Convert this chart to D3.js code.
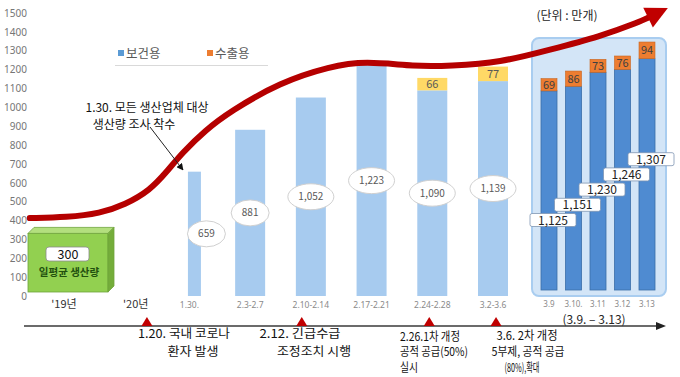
<!DOCTYPE html>
<html>
<head>
<meta charset="utf-8">
<script src="https://cdn.jsdelivr.net/npm/d3@7"></script>
<style>
  body { margin: 0; background: #fff; }
  svg { display: block; font-family: "Noto Sans CJK KR", "Noto Sans", sans-serif; }
</style>
</head>
<body>
<svg id="chart" width="680" height="377"></svg>
<script>
// ---- data ----
var categories = ["'19년", "'20년", "1.30.", "2.3-2.7", "2.10-2.14", "2.17-2.21", "2.24-2.28", "3.2-3.6"];
var yTicks = [0, 100, 200, 300, 400, 500, 600, 700, 800, 900, 1000, 1100, 1200, 1300, 1400, 1500];
var avgDaily = 300;

var weekCats = ["1.30.", "2.3-2.7", "2.10-2.14", "2.17-2.21", "2.24-2.28", "3.2-3.6"];
var weekHealth = [659, 881, 1052, 1223, 1090, 1139];
var weekExport = [0, 0, 0, 0, 66, 77];

var dayCats = ["3.9", "3.10.", "3.11", "3.12", "3.13"];
var dayHealth = [1125, 1151, 1230, 1246, 1307];
var dayExport = [69, 86, 73, 76, 94];

// trend arrow, in category-index / value units
var trendX = [-0.63, -0.63, -0.02, 0.53, 0.94, 1.35, 1.63, 1.88, 2.26, 2.67, 3.49, 4.32, 4.89, 5.72, 6.29, 7.12, 7.94, 8.76, 9.42, 9.88];
var trendV = [413, 413, 417, 438, 484, 560, 660, 758, 878, 978, 1132, 1217, 1245, 1217, 1220, 1237, 1306, 1375, 1454, 1526];

// timeline events (position in category-index units)
var eventPos = [1.3, 3.85, 5.95, 7.05];
var eventLines = [
  ["1.20. 국내 코로나", "환자 발생"],
  ["2.12. 긴급수급", "조정조치 시행"],
  ["2.26.1차 개정", "공적 공급(50%)", "실시"],
  ["3.6. 2차 개정", "5부제, 공적 공급", "(80%),확대"]
];

// ---- setup ----
var svg = d3.select("#chart");

var y = d3.scaleLinear().domain([0, 1500]).range([296, 13]);
var x = d3.scalePoint().domain(categories).range([68, 493]);
var xIdx = d3.scaleLinear().domain([0, categories.length - 1]).range([68, 493]);
var xDay = d3.scalePoint().domain(dayCats).range([549, 647]);
// the highlighted daily group sits on its own, slightly compressed scale
var yDay = d3.scaleLinear().domain([0, 1500]).range([290, 24.5]);

// y axis
var yAxis = svg.append("g")
   .attr("transform", "translate(27,0)")
   .call(d3.axisLeft(y).tickValues(yTicks).tickSize(0).tickPadding(0).tickFormat(d3.format("d")));
yAxis.select(".domain").remove();
yAxis.selectAll("text")
   .attr("font-size", 10)
   .attr("fill", "#767676")
   .attr("font-family", "'Noto Sans', sans-serif");

// highlight box behind the daily bars
svg.append("rect")
   .attr("x", xDay(dayCats[0]) - 17)
   .attr("y", 38)
   .attr("width", xDay(dayCats[dayCats.length - 1]) + 19 - (xDay(dayCats[0]) - 17))
   .attr("height", y(0) - 38)
   .attr("rx", 7)
   .attr("fill", "#d3e5f7")
   .attr("stroke", "#a9cdf0")
   .attr("stroke-width", 2);

// legend
svg.append("line")
   .attr("x1", 115).attr("x2", 268).attr("y1", 65.5).attr("y2", 65.5)
   .attr("stroke", "#d9d9d9");
var legend = svg.selectAll(".legend")
   .data([{ name: "보건용", color: "#5b9bd5" }, { name: "수출용", color: "#ed7d31" }])
   .enter().append("g")
   .attr("class", "legend")
   .attr("transform", function(d, i) { return "translate(" + (118 + i * 89) + ",53)"; });
legend.append("rect")
   .attr("x", 0).attr("y", -3).attr("width", 6).attr("height", 6)
   .attr("fill", function(d) { return d.color; });
legend.append("text")
   .attr("x", 8).attr("y", 4.5)
   .attr("font-size", 12.5)
   .attr("fill", "#595959")
   .text(function(d) { return d.name; });

// unit
svg.append("text")
   .attr("x", 567).attr("y", 19.5)
   .attr("text-anchor", "middle")
   .attr("font-size", 12)
   .attr("fill", "#262626")
   .text("(단위 : 만개)");

// '19 average box (3D green block)
var gx = x("'19년"), gw = 80, depth = 6;
var gx0 = gx - gw / 2, gx1 = gx + gw / 2;
var gTop = y(avgDaily) - 6, gBot = y(0) - 4;
svg.append("rect")
   .attr("x", gx0).attr("y", gTop).attr("width", gw).attr("height", gBot - gTop)
   .attr("fill", "#92d050").attr("stroke", "#6ea33a").attr("stroke-width", 0.8);
svg.append("path")
   .attr("d", "M" + gx0 + "," + gTop + "L" + (gx0 + depth) + "," + (gTop - depth) +
              "L" + (gx1 + depth) + "," + (gTop - depth) + "L" + gx1 + "," + gTop + "Z")
   .attr("fill", "#b3df7e").attr("stroke", "#6ea33a").attr("stroke-width", 0.8);
svg.append("path")
   .attr("d", "M" + gx1 + "," + gTop + "L" + (gx1 + depth) + "," + (gTop - depth) +
              "L" + (gx1 + depth) + "," + (gBot - depth) + "L" + gx1 + "," + gBot + "Z")
   .attr("fill", "#74ad3a").attr("stroke", "#6ea33a").attr("stroke-width", 0.8);
svg.append("rect")
   .attr("x", gx - 22).attr("y", 247).attr("width", 43).attr("height", 14).attr("rx", 3)
   .attr("fill", "#fff").attr("stroke", "#8c8c8c").attr("stroke-width", 0.8);
svg.append("text")
   .attr("x", gx).attr("y", 258.5).attr("text-anchor", "middle")
   .attr("font-size", 12.5).attr("fill", "#111")
   .text(avgDaily);
svg.append("text")
   .attr("x", gx + 1).attr("y", 276).attr("text-anchor", "middle")
   .attr("font-size", 10.5).attr("font-weight", "bold").attr("fill", "#23500f")
   .text("일평균 생산량");

// weekly bars (light)
var weeks = weekCats.map(function(c, i) {
   return { cat: c, health: weekHealth[i], exp: weekExport[i], i: i };
});
function weekW(d) { return d.i == 0 ? 13 : 30; }
function weekCx(d) { return x(d.cat) + (d.i == 0 ? 5 : 0); }

svg.selectAll(".wbar")
   .data(weeks)
   .enter().append("rect")
   .attr("class", "wbar")
   .attr("x", function(d) { return weekCx(d) - weekW(d) / 2; })
   .attr("y", function(d) { return y(d.health); })
   .attr("width", weekW)
   .attr("height", function(d) { return y(0) - y(d.health); })
   .attr("fill", "#a7cbef");

var wexp = weeks.filter(function(d) { return d.exp > 0; });
svg.selectAll(".wexp")
   .data(wexp)
   .enter().append("rect")
   .attr("class", "wexp")
   .attr("x", function(d) { return weekCx(d) - weekW(d) / 2; })
   .attr("y", function(d) { return y(d.health + d.exp); })
   .attr("width", weekW)
   .attr("height", function(d) { return y(d.health) - y(d.health + d.exp); })
   .attr("fill", "#ffd966");
svg.selectAll(".wexpText")
   .data(wexp)
   .enter().append("text")
   .attr("class", "wexpText")
   .attr("x", weekCx)
   .attr("y", function(d) { return (y(d.health) + y(d.health + d.exp)) / 2 + 4; })
   .attr("text-anchor", "middle")
   .attr("font-size", 11)
   .attr("fill", "#595959")
   .text(function(d) { return d.exp; });

// ellipse value labels, halfway up each bar
var wl = svg.selectAll(".wlab")
   .data(weeks)
   .enter().append("g")
   .attr("class", "wlab")
   .attr("transform", function(d) {
      var cx = weekCx(d) + (d.i == 0 ? 12 : 0);
      return "translate(" + cx + "," + y(d.health / 2) + ")";
   });
wl.append("ellipse")
   .attr("rx", function(d) { return d.health >= 1000 ? 23 : 19; })
   .attr("ry", 13)
   .attr("fill", "#fff")
   .attr("stroke", "#d0d0d0");
wl.append("text")
   .attr("y", 3.5)
   .attr("text-anchor", "middle")
   .attr("font-size", 10)
   .attr("fill", "#595959")
   .text(function(d) { return d3.format(",")(d.health); });

// daily bars (dark, stacked)
var days = dayCats.map(function(c, i) {
   return { cat: c, health: dayHealth[i], exp: dayExport[i], i: i };
});
var dW = 16;
svg.selectAll(".dbar")
   .data(days)
   .enter().append("rect")
   .attr("class", "dbar")
   .attr("x", function(d) { return xDay(d.cat) - dW / 2; })
   .attr("y", function(d) { return yDay(d.health); })
   .attr("width", dW)
   .attr("height", function(d) { return yDay(0) - yDay(d.health); })
   .attr("fill", "#4f8bd1")
   .attr("stroke", "#3b6ea8")
   .attr("stroke-width", 0.8);
svg.selectAll(".dexp")
   .data(days)
   .enter().append("rect")
   .attr("class", "dexp")
   .attr("x", function(d) { return xDay(d.cat) - dW / 2; })
   .attr("y", function(d) { return yDay(d.health + d.exp); })
   .attr("width", dW)
   .attr("height", function(d) { return yDay(d.health) - yDay(d.health + d.exp); })
   .attr("fill", "#ed7d31")
   .attr("stroke", "#c7651f")
   .attr("stroke-width", 0.6);
svg.selectAll(".dexpText")
   .data(days)
   .enter().append("text")
   .attr("class", "dexpText")
   .attr("x", function(d) { return xDay(d.cat); })
   .attr("y", function(d) { return (yDay(d.health) + yDay(d.health + d.exp)) / 2 + 4; })
   .attr("text-anchor", "middle")
   .attr("font-size", 11)
   .attr("fill", "#404040")
   .text(function(d) { return d.exp; });

// daily value boxes, stepping up
var dl = svg.selectAll(".dlab")
   .data(days)
   .enter().append("g")
   .attr("class", "dlab")
   .attr("transform", function(d) {
      return "translate(" + (xDay(d.cat) + 4) + "," + (220 - d.i * 15.2) + ")";
   });
dl.append("rect")
   .attr("x", -23).attr("y", -6.5).attr("width", 46).attr("height", 13).attr("rx", 2)
   .attr("fill", "#fff").attr("stroke", "#7f95b3").attr("stroke-width", 0.8);
dl.append("text")
   .attr("y", 4.5)
   .attr("text-anchor", "middle")
   .attr("font-size", 12)
   .attr("fill", "#222")
   .text(function(d) { return d3.format(",")(d.health); });

// category labels
svg.selectAll(".cat")
   .data(categories)
   .enter().append("text")
   .attr("class", "cat")
   .attr("x", function(d, i) { return x(d) + (i == 0 ? -4 : i == 1 ? 7 : 0); })
   .attr("y", 308)
   .attr("text-anchor", "middle")
   .attr("font-size", function(d, i) { return i < 2 ? 11 : 8.5; })
   .attr("font-family", function(d, i) { return i < 2 ? null : "'Noto Sans', sans-serif"; })
   .attr("fill", function(d, i) { return i < 2 ? "#333" : "#8a8a8a"; })
   .text(function(d) { return d; });
svg.selectAll(".dcat")
   .data(dayCats)
   .enter().append("text")
   .attr("class", "dcat")
   .attr("x", function(d) { return xDay(d); })
   .attr("y", 306.5)
   .attr("text-anchor", "middle")
   .attr("font-size", 8)
   .attr("font-family", "'Noto Sans', sans-serif")
   .attr("fill", "#8a8a8a")
   .text(function(d) { return d; });
svg.append("text")
   .attr("x", 594).attr("y", 323.5)
   .attr("text-anchor", "middle")
   .attr("font-size", 12)
   .attr("fill", "#262626")
   .text("(3.9. – 3.13)");

// trend arrow
var pts = trendX.map(function(t, i) { return [xIdx(t), y(trendV[i])]; });
var tip = pts[pts.length - 1], prev = pts[pts.length - 2];
var dx = tip[0] - prev[0], dy = tip[1] - prev[1], len = Math.sqrt(dx * dx + dy * dy);
var ux = dx / len, uy = dy / len;
var headL = 22, headW = 11;
var base = [tip[0] - ux * headL, tip[1] - uy * headL];
var linePts = pts.slice(0, pts.length - 1).concat([base, base]);
svg.append("path")
   .attr("d", d3.line().curve(d3.curveBasis)(linePts))
   .attr("fill", "none")
   .attr("stroke", "#b50000")
   .attr("stroke-width", 6)
   .attr("stroke-linecap", "round");
svg.append("path")
   .attr("d", "M" + tip[0] + "," + tip[1] +
              "L" + (base[0] - uy * headW) + "," + (base[1] + ux * headW) +
              "L" + (base[0] + uy * headW) + "," + (base[1] - ux * headW) + "Z")
   .attr("fill", "#c00000");

// annotation for 1.30.
svg.append("defs").append("marker")
   .attr("id", "ah")
   .attr("viewBox", "0 0 10 10")
   .attr("refX", 9).attr("refY", 5)
   .attr("markerWidth", 7).attr("markerHeight", 7)
   .attr("orient", "auto")
   .append("path").attr("d", "M0,0L10,5L0,10Z").attr("fill", "#111");
svg.append("line")
   .attr("x1", 150).attr("y1", 127).attr("x2", 183).attr("y2", 170)
   .attr("stroke", "#222").attr("stroke-width", 1)
   .attr("marker-end", "url(#ah)");
svg.append("text")
   .attr("x", 147).attr("y", 111.5).attr("text-anchor", "middle")
   .attr("font-size", 12).attr("fill", "#111")
   .text("1.30. 모든 생산업체 대상");
svg.append("text")
   .attr("x", 134).attr("y", 128.5).attr("text-anchor", "middle")
   .attr("font-size", 12).attr("fill", "#111")
   .text("생산량 조사 착수");

// timeline
var tl = 326;
svg.append("line")
   .attr("x1", 24).attr("x2", 658).attr("y1", tl).attr("y2", tl)
   .attr("stroke", "#3a3a3a").attr("stroke-width", 1.3);
svg.append("path")
   .attr("d", "M666," + tl + "L656," + (tl - 4) + "L656," + (tl + 4) + "Z")
   .attr("fill", "#222");
svg.selectAll(".evtri")
   .data(eventPos)
   .enter().append("path")
   .attr("class", "evtri")
   .attr("d", function(p) {
      var cx = xIdx(p);
      return "M" + (cx - 5.5) + "," + tl + "L" + cx + "," + (tl - 9) + "L" + (cx + 5.5) + "," + tl + "Z";
   })
   .attr("fill", "#c00000");

// event texts: [x, anchor, width] per line, y per line
var evLayout = [
   { lines: [[184, "middle", 92], [193, "middle", 51]], ys: [337.5, 355.5] },
   { lines: [[300, "middle", 81], [314, "middle", 74]], ys: [337.5, 355.5] },
   { lines: [[400, "start", 60], [400, "start", 68], [400, "start", 18]], ys: [340.5, 356, 371.5] },
   { lines: [[527, "middle", 61], [528, "middle", 73], [522, "middle", 35]], ys: [339.5, 356, 371.5] }
];
eventLines.forEach(function(lines, e) {
   lines.forEach(function(t, k) {
      var lay = evLayout[e].lines[k];
      svg.append("text")
         .attr("x", lay[0]).attr("y", evLayout[e].ys[k])
         .attr("text-anchor", lay[1])
         .attr("font-size", 12)
         .attr("fill", "#111")
         .attr("textLength", lay[2])
         .attr("lengthAdjust", "spacingAndGlyphs")
         .text(t);
   });
});
</script>
</body>
</html>
